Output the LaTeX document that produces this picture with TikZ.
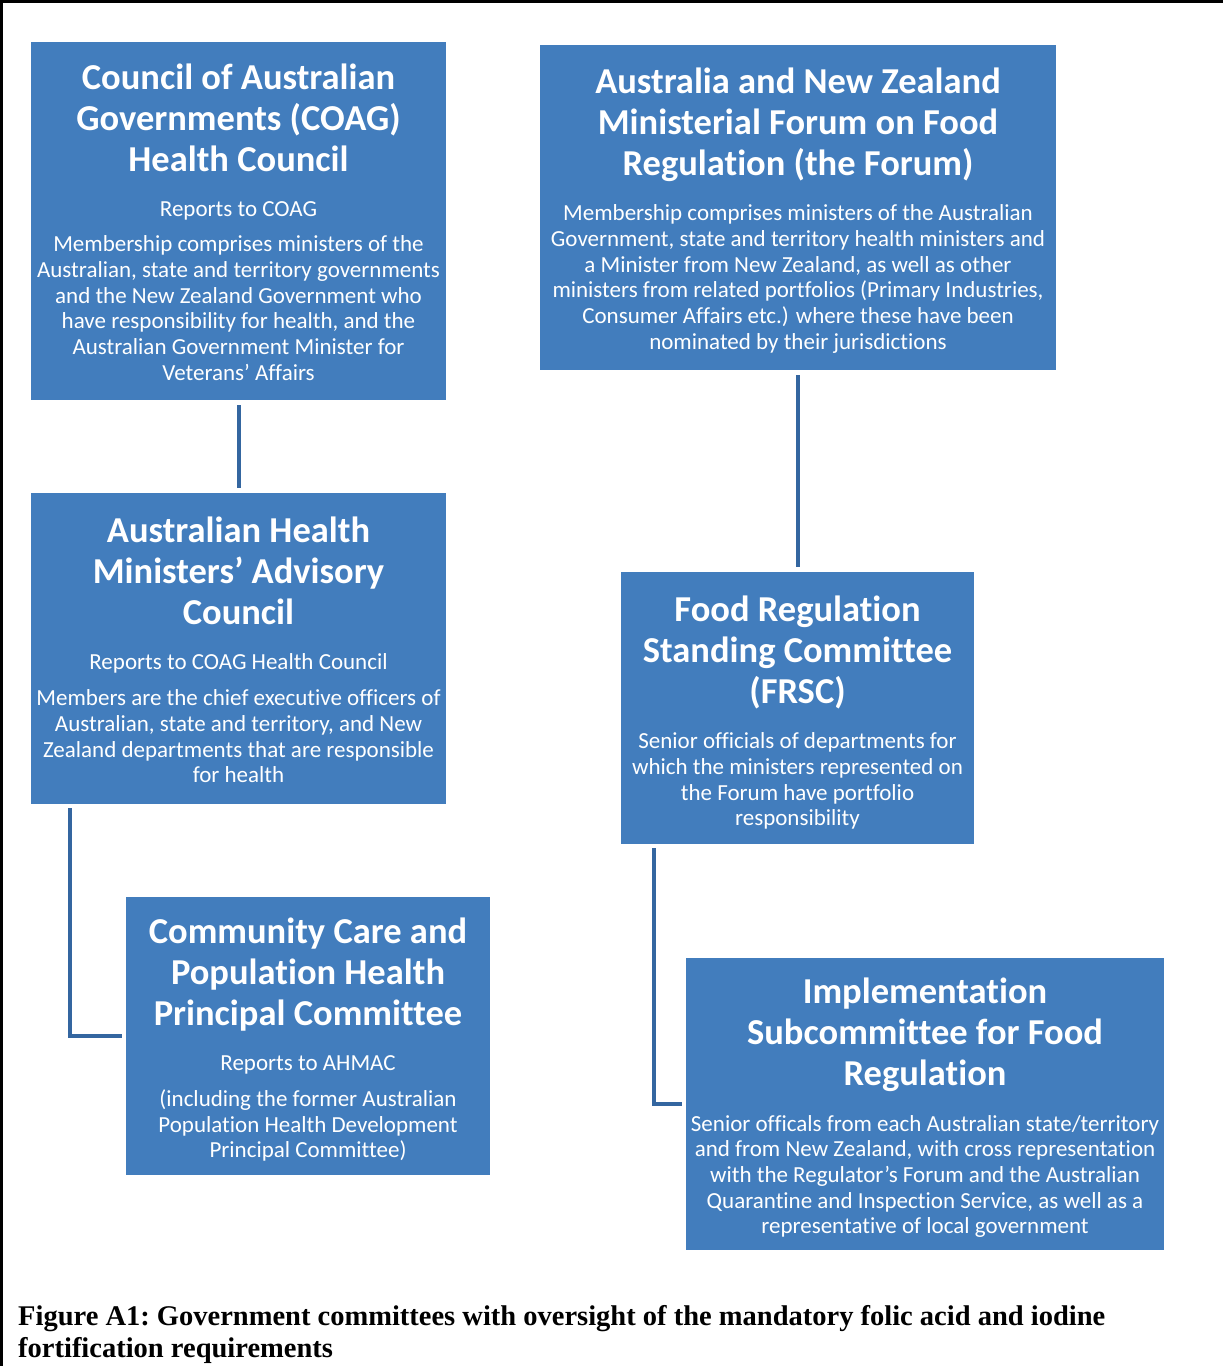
\documentclass[tikz,border=0pt]{standalone}
\usepackage{fontspec}
\setmainfont{Carlito}[RawFeature={-liga;-clig;-dlig;-calt}]
\newfontfamily\capfont{Liberation Serif}
\definecolor{boxblue}{RGB}{66,125,189}
\definecolor{connblue}{RGB}{52,102,160}
\newcommand\tl[2][41pt]{\par\fontsize{36.5}{#1}\selectfont\bfseries\spaceskip=0pt\xspaceskip=0pt\hbox to\hsize{\hss#2\hss}}
\newcommand\bl[2][25.7pt]{\par\fontsize{23}{#1}\selectfont\mdseries\spaceskip=0pt\xspaceskip=0pt\hbox to\hsize{\hss#2\hss}}
\newcommand\bxend[1]{\par\kern#1}
\begin{document}
\begin{tikzpicture}[x=1pt,y=-1pt,
  box/.style={rectangle,fill=boxblue,text=white,inner sep=0pt},
  conn/.style={draw=connblue,line width=4pt}]
\useasboundingbox (0,0) rectangle (1223,1366);
\draw[line width=3pt] (1.5,1366) -- (1.5,1.5) -- (1223,1.5);

\node[box,text width=415pt,minimum height=358pt] (coag) at (238.5,221) {%
\tl{Council of Australian}\tl{Governments (COAG)}\tl{Health Council}%
\bl[45pt]{Reports to COAG}%
\bl[35pt]{Membership comprises ministers of the}\bl{Australian, state and territory governments}%
\bl{and the New Zealand Government who}\bl{have responsibility for health, and the}%
\bl{Australian Government Minister for}\bl{Veterans’ Affairs}\bxend{13pt}};

\node[box,text width=516pt,minimum height=325pt] (forum) at (798,207.5) {%
\tl{Australia and New Zealand}\tl{Ministerial Forum on Food}\tl{Regulation (the Forum)}%
\bl[45pt]{Membership comprises ministers of the Australian}%
\bl{Government, state and territory health ministers and}%
\bl{a Minister from New Zealand, as well as other}%
\bl{ministers from related portfolios (Primary Industries,}%
\bl{Consumer Affairs etc.) where these have been}%
\bl{nominated by their jurisdictions}\bxend{9pt}};

\node[box,text width=415pt,minimum height=311pt] (ahmac) at (238.5,648.5) {%
\tl{Australian Health}\tl{Ministers’ Advisory}\tl{Council}%
\bl[45pt]{Reports to COAG Health Council}%
\bl[36pt]{Members are the chief executive officers of}%
\bl{Australian, state and territory, and New}%
\bl{Zealand departments that are responsible}%
\bl{for health}\bxend{12pt}};

\node[box,text width=353pt,minimum height=272pt] (frsc) at (797.5,708) {%
\tl{Food Regulation}\tl{Standing Committee}\tl{(FRSC)}%
\bl[45pt]{Senior officials of departments for}%
\bl{which the ministers represented on}%
\bl{the Forum have portfolio}%
\bl{responsibility}\bxend{6pt}};

\node[box,text width=364pt,minimum height=278pt] (ccph) at (308,1036) {%
\tl{Community Care and}\tl{Population Health}\tl{Principal Committee}%
\bl[45pt]{Reports to AHMAC}%
\bl[36pt]{(including the former Australian}%
\bl{Population Health Development}%
\bl{Principal Committee)}\bxend{8pt}};

\node[box,text width=478pt,minimum height=292pt] (isfr) at (925,1104) {%
\tl{Implementation}\tl{Subcommittee for Food}\tl{Regulation}%
\bl[46pt]{Senior officals from each Australian state/territory}%
\bl{and from New Zealand, with cross representation}%
\bl{with the Regulator’s Forum and the Australian}%
\bl{Quarantine and Inspection Service, as well as a}%
\bl{representative of local government}\bxend{8pt}};

\draw[conn,shorten <=5pt,shorten >=5pt] (coag.south) -- (ahmac.north);
\draw[conn,shorten <=5pt,shorten >=5pt] (forum.south) -- (forum.south |- frsc.north);
\draw[conn] ([xshift=39pt,yshift=-4pt]ahmac.south west) |- ([xshift=-4pt]ccph.west);
\draw[conn] ([xshift=33pt,yshift=-4pt]frsc.south west) |- ([xshift=-4pt]isfr.west);

\node[anchor=base west,align=left,inner sep=0pt,font=\capfont\bfseries\frenchspacing\fontsize{28.5}{32}\selectfont] (cap) at (18,1357)
 {Figure A1: Government committees with oversight of the mandatory folic acid and iodine\\fortification requirements};
\end{tikzpicture}
\end{document}
